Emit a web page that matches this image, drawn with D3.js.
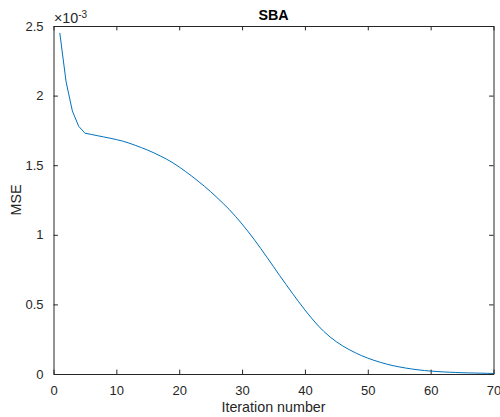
<!DOCTYPE html>
<html>
<head>
<meta charset="utf-8">
<script src="https://cdn.jsdelivr.net/npm/d3@7"></script>
<style>
  html, body { margin: 0; padding: 0; background: #fff; }
  svg { display: block; font-family: "Liberation Sans", Arial, Helvetica, sans-serif; }
</style>
</head>
<body>
<svg id="chart" width="500" height="417"></svg>
<script>
// ---- data ----
const iterations = d3.range(1, 71);
const mseValues = [
  2.450, 2.100, 1.890, 1.780, 1.730, 1.721, 1.712, 1.703, 1.694, 1.684,
  1.673, 1.659, 1.643, 1.626, 1.608, 1.588, 1.566, 1.543, 1.517, 1.487,
  1.455, 1.421, 1.386, 1.349, 1.310, 1.268, 1.225, 1.180, 1.130, 1.077,
  1.021, 0.962, 0.900, 0.836, 0.771, 0.706, 0.643, 0.580, 0.519, 0.460,
  0.404, 0.352, 0.306, 0.266, 0.232, 0.202, 0.176, 0.153, 0.132, 0.114,
  0.098, 0.084, 0.071, 0.060, 0.051, 0.043, 0.036, 0.030, 0.025, 0.021,
  0.018, 0.015, 0.013, 0.011, 0.009, 0.008, 0.007, 0.006, 0.005, 0.004
];
const xTicks = [0, 10, 20, 30, 40, 50, 60, 70];
const yTicks = [0, 0.5, 1, 1.5, 2, 2.5];
const titleText = "SBA";
const xLabel = "Iteration number";
const yLabel = "MSE";

// ---- layout ----
const L = 53.5, R = 493.5, T = 26, B = 374;
const axisColor = "#262626";
const tickLen = 4.4;

const svg = d3.select("#chart");
const x = d3.scaleLinear().domain([0, 70]).range([L, R]);
const y = d3.scaleLinear().domain([0, 2.5]).range([B, T]);

// data line
const line = d3.line().x((d, i) => x(iterations[i])).y(d => y(d));
svg.append("path")
  .datum(mseValues)
  .attr("d", line)
  .attr("fill", "none")
  .attr("stroke", "#0072BD")
  .attr("stroke-width", 1);

// bottom axis
const xb = svg.append("g").attr("transform", `translate(0,${B})`)
  .call(d3.axisBottom(x).tickValues(xTicks).tickSizeInner(-tickLen).tickSizeOuter(0).tickPadding(12));
// top axis
const xt = svg.append("g").attr("transform", `translate(0,${T})`)
  .call(d3.axisTop(x).tickValues(xTicks).tickSizeInner(-tickLen).tickSizeOuter(0).tickFormat(""));
// left axis
const yl = svg.append("g").attr("transform", `translate(${L},0)`)
  .call(d3.axisLeft(y).tickValues(yTicks).tickSizeInner(-tickLen).tickSizeOuter(0).tickPadding(10)
    .tickFormat(d => d3.format("")(d)));
// right axis
const yr = svg.append("g").attr("transform", `translate(${R},0)`)
  .call(d3.axisRight(y).tickValues(yTicks).tickSizeInner(-tickLen).tickSizeOuter(0).tickFormat(""));

[xb, xt, yl, yr].forEach(g => {
  g.selectAll(".domain").attr("stroke", axisColor).attr("stroke-width", 1);
  g.selectAll(".tick line").attr("stroke", axisColor).attr("stroke-width", 1);
  g.selectAll(".tick text").attr("fill", axisColor)
    .style("font-size", "13px")
    .style("font-family", '"Liberation Sans", Arial, Helvetica, sans-serif');
});
xb.selectAll(".tick text").attr("dy", "0.71em");

// exponent label
const ex = svg.append("text")
  .attr("x", 54).attr("y", 23)
  .attr("fill", axisColor)
  .style("font-size", "14.3px");
ex.append("tspan").text("\u00d710");
ex.append("tspan").attr("dy", -5.5).style("font-size", "10px").text("-3");

// title
svg.append("text")
  .attr("x", (L + R) / 2).attr("y", 20)
  .attr("text-anchor", "middle")
  .attr("fill", "#000")
  .style("font-size", "14.3px").style("font-weight", "bold")
  .text(titleText);

// x label
svg.append("text")
  .attr("x", (L + R) / 2).attr("y", 412)
  .attr("text-anchor", "middle")
  .attr("fill", axisColor)
  .style("font-size", "14.3px")
  .text(xLabel);

// y label
svg.append("text")
  .attr("transform", `translate(20.5,${(T + B) / 2}) rotate(-90)`)
  .attr("text-anchor", "middle")
  .attr("fill", axisColor)
  .style("font-size", "14.3px")
  .text(yLabel);
</script>
</body>
</html>
